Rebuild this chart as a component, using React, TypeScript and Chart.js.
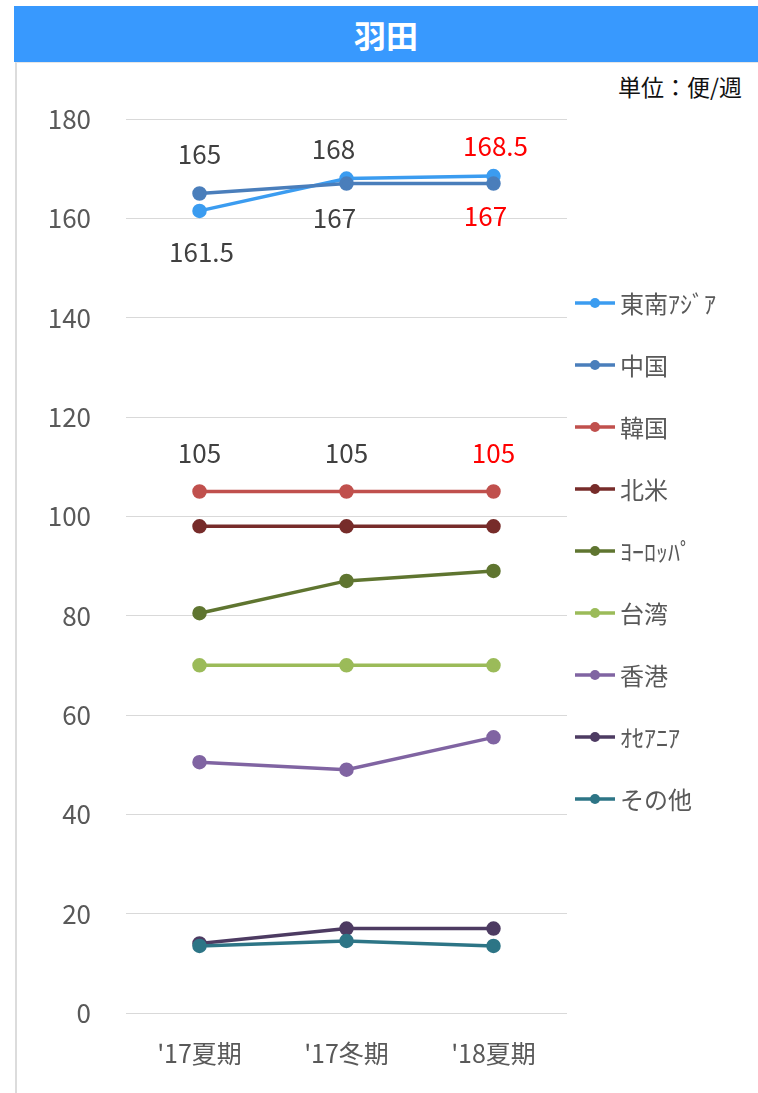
import React, { useEffect, useRef } from "react";
import { Chart, registerables } from "chart.js";

Chart.register(...registerables);

const categories = ["'17夏期", "'17冬期", "'18夏期"];
const seriesNames = ["東南ｱｼﾞｱ", "中国", "韓国", "北米", "ﾖｰﾛｯﾊﾟ", "台湾", "香港", "ｵｾｱﾆｱ", "その他"];
const southeastAsia = [161.5, 168, 168.5];
const china = [165, 167, 167];
const korea = [105, 105, 105];
const northAmerica = [98, 98, 98];
const europe = [80.5, 87, 89];
const taiwan = [70, 70, 70];
const hongKong = [50.5, 49, 55.5];
const oceania = [14, 17, 17];
const others = [13.5, 14.5, 13.5];
const yTicks = [0, 20, 40, 60, 80, 100, 120, 140, 160, 180];

const seriesValues = [southeastAsia, china, korea, northAmerica, europe, taiwan, hongKong, oceania, others];
const seriesColors = ["#3b9cf0", "#4a7ebb", "#c0504d", "#772c2a", "#5f7530", "#9bbb59", "#8064a2", "#4d3b62", "#2d7586"];

const FONT = "'Noto Sans CJK JP', 'Noto Sans', sans-serif";
const GREY = "#404040";
const RED = "#ff0000";

const labelSpecs = [
  { ds: 1, i: 0, dx: 0, dy: -39, color: GREY },
  { ds: 0, i: 0, dx: 2, dy: 41, color: GREY },
  { ds: 0, i: 1, dx: -13, dy: -29, color: GREY },
  { ds: 1, i: 1, dx: -12, dy: 35, color: GREY },
  { ds: 0, i: 2, dx: 2, dy: -30, color: RED },
  { ds: 1, i: 2, dx: -8, dy: 33, color: RED },
  { ds: 2, i: 0, dx: 0, dy: -38, color: GREY },
  { ds: 2, i: 1, dx: 0, dy: -38, color: GREY },
  { ds: 2, i: 2, dx: 0, dy: -38, color: RED },
];

const dataLabelPlugin = {
  id: "dataLabelPlugin",
  afterDatasetsDraw(chart: any) {
    const ctx = chart.ctx;
    ctx.save();
    ctx.font = `26px ${FONT}`;
    ctx.textAlign = "center";
    ctx.textBaseline = "middle";
    for (const s of labelSpecs) {
      const meta = chart.getDatasetMeta(s.ds);
      const pt = meta.data[s.i];
      const v = chart.data.datasets[s.ds].data[s.i];
      ctx.fillStyle = s.color;
      ctx.fillText(String(v), pt.x + s.dx, pt.y + s.dy);
    }
    ctx.restore();
  },
};

const legendPlugin = {
  id: "sideLegend",
  afterDraw(chart: any) {
    const ctx = chart.ctx;
    ctx.save();
    const x0 = 559;
    const y0 = 239;
    const gap = 62;
    chart.data.datasets.forEach((ds: any, k: number) => {
      const y = y0 + k * gap;
      ctx.strokeStyle = ds.borderColor;
      ctx.lineWidth = 3.5;
      ctx.beginPath();
      ctx.moveTo(x0, y);
      ctx.lineTo(x0 + 40, y);
      ctx.stroke();
      ctx.fillStyle = ds.borderColor;
      ctx.beginPath();
      ctx.arc(x0 + 20, y, 5, 0, Math.PI * 2);
      ctx.fill();
      ctx.fillStyle = "#595959";
      ctx.font = `24px ${FONT}`;
      ctx.textAlign = "left";
      ctx.textBaseline = "middle";
      ctx.fillText(ds.label, x0 + 45, y + 1);
    });
    ctx.restore();
  },
};

function LineChart() {
  const ref = useRef<HTMLCanvasElement>(null);
  useEffect(() => {
    const canvas = ref.current!;
    const n = seriesValues.length;
    const chart = new Chart(canvas, {
      type: "line",
      data: {
        labels: categories,
        datasets: seriesValues.map((vals, k) => ({
          label: seriesNames[k],
          data: vals,
          borderColor: seriesColors[k],
          backgroundColor: seriesColors[k],
          pointBackgroundColor: seriesColors[k],
          pointBorderColor: seriesColors[k],
          borderWidth: 3.5,
          pointRadius: 5.5,
          pointHoverRadius: 5.5,
          tension: 0,
          order: n - k,
        })),
      },
      options: {
        responsive: false,
        animation: false,
        devicePixelRatio: 1,
        layout: { padding: { top: 55, right: 191, left: 0, bottom: 0 } },
        plugins: { legend: { display: false }, tooltip: { enabled: false } },
        scales: {
          x: {
            offset: true,
            grid: { display: false, drawTicks: false },
            border: { display: false },
            ticks: { color: "#595959", font: { family: FONT, size: 25 }, padding: 25 },
            afterFit: (s: any) => {
              s.height = 80;
            },
          },
          y: {
            min: 0,
            max: 180,
            afterBuildTicks: (s: any) => {
              s.ticks = yTicks.map((v) => ({ value: v }));
            },
            grid: { color: "#d9d9d9", lineWidth: 1, drawTicks: false },
            border: { display: false },
            ticks: { color: "#595959", font: { family: FONT, size: 26 }, padding: 35 },
            afterFit: (s: any) => {
              s.width = 110;
            },
          },
        },
      },
      plugins: [dataLabelPlugin, legendPlugin],
    });
    return () => chart.destroy();
  }, []);
  return <canvas ref={ref} width={742} height={1029} style={{ position: "absolute", left: 16, top: 64, width: 742, height: 1029 }} />;
}

export default function App() {
  return (
    <div style={{ position: "absolute", left: 0, top: 0, width: 758, height: 1093, background: "#fff", overflow: "hidden", fontFamily: FONT }}>
      <div
        style={{
          position: "absolute",
          left: 14,
          top: 6,
          width: 744,
          height: 56,
          background: "#3899fe",
          color: "#fff",
          fontWeight: 700,
          fontSize: 32,
          lineHeight: "56px",
          textAlign: "center",
        }}
      >
        羽田
      </div>
      <div style={{ position: "absolute", left: 15, top: 62, width: 743, height: 1031, borderLeft: "2px solid #dcdcdc", borderTop: "1px solid #e6e6e6", boxSizing: "border-box" }} />
      <div style={{ position: "absolute", right: 16, top: 71, fontSize: 23, color: "#111", lineHeight: "30px" }}>単位：便/週</div>
      <LineChart />
    </div>
  );
}
